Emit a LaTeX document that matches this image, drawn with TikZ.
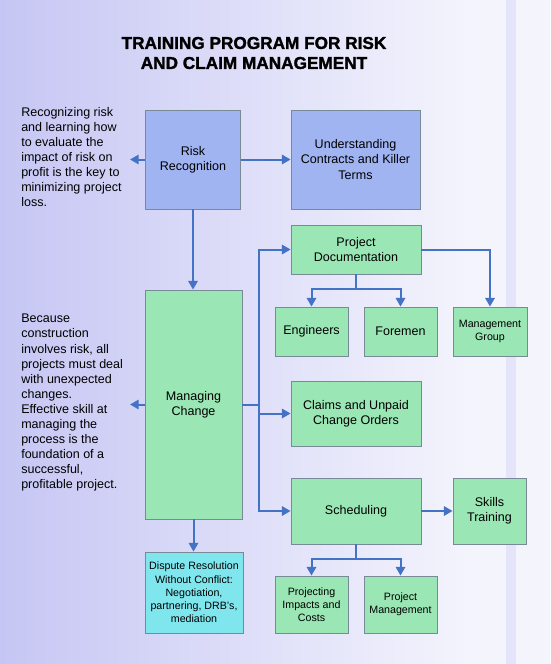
\documentclass[tikz,border=0pt]{standalone}
\usepackage{fontspec}
\setmainfont{Liberation Sans}
\newfontfamily\titlefont{Liberation Sans}[BoldFeatures={FakeBold=1.6}]
\usepackage{xcolor}
\usetikzlibrary{positioning,calc,arrows.meta}

\definecolor{bgleft}{RGB}{198,198,244}
\definecolor{bgright}{RGB}{244,244,253}
\definecolor{riskblue}{RGB}{160,180,242}
\definecolor{boxgreen}{RGB}{154,230,180}
\definecolor{boxcyan}{RGB}{128,230,238}
\definecolor{boxedge}{RGB}{120,138,150}
\definecolor{linkblue}{RGB}{68,114,196}

\begin{document}
\begin{tikzpicture}[x=0.75pt,y=-0.75pt,
    wh/.style 2 args={minimum width=#1*0.75pt, minimum height=#2*0.75pt},
    box/.style={draw=boxedge, line width=0.6pt, align=center, inner sep=1pt,
      font=\fontsize{9.4}{11.6}\selectfont},
    bluebox/.style={box, fill=riskblue},
    greenbox/.style={box, fill=boxgreen},
    smallbox/.style={box, font=\fontsize{8}{9.9}\selectfont},
    arr/.style={draw=linkblue, line width=1.5pt,
      -{Triangle[length=6.5pt,width=7pt]}},
    note/.style={anchor=north west, align=left, inner sep=0pt,
      font=\fontsize{9.4}{11.3}\selectfont}]

    % background
    \shade[left color=bgleft, right color=bgright] (0,0) rectangle (470,664);
    \fill[bgright] (470,0) rectangle (550,664);
    \fill[bgleft!35!bgright] (506,0) rectangle (516,664);
    \useasboundingbox (0,0) rectangle (550,664);

    % title
    \node[align=center, font=\titlefont\bfseries\fontsize{12.9}{15}\selectfont] (title) at (254,53)
      {TRAINING PROGRAM FOR RISK\\AND CLAIM MANAGEMENT};

    % boxes
    \node[bluebox, wh={95}{99}] (risk) at (193,159.5) {Risk\\Recognition};
    \node[bluebox, wh={129}{99}] (under) at (355.5,159.5)
      {Understanding\\Contracts and Killer\\Terms};
    \node[greenbox, wh={97}{229}] (mc) at (193.5,404.5) {Managing\\Change};
    \node[greenbox, wh={130}{49}] (pd) at (356,249.5) {Project\\Documentation};
    \node[greenbox, wh={73}{49}] (eng) at (311.5,331.5) {Engineers};
    \node[greenbox, wh={73}{49}] (fore) at (400.5,331.5) {Foremen};
    \node[greenbox, smallbox, wh={74}{49}] (mg) at (490,331.5) {Management\\Group};
    \node[greenbox, wh={130}{65}] (claims) at (356,413.5)
      {Claims and Unpaid\\Change Orders};
    \node[greenbox, wh={130}{66}] (sched) at (356,511) {Scheduling};
    \node[greenbox, wh={73}{66}] (skills) at (489.5,511) {Skills\\Training};
    \node[box, smallbox, fill=boxcyan, wh={98}{81}] (disp) at (194,592.5)
      {Dispute Resolution\\Without Conflict:\\Negotiation,\\partnering, DRB's,\\mediation};
    \node[greenbox, smallbox, wh={73}{57}] (impact) at (311.5,604.5)
      {Projecting\\Impacts and\\Costs};
    \node[greenbox, smallbox, wh={73}{57}] (pm) at (400.5,604.5)
      {Project\\Management};

    % side notes
    \node[note] (risknote) at (21,107) {Recognizing risk\\and learning how\\to evaluate the\\impact of risk on\\profit is the key to\\minimizing project\\loss.};
    \node[note] (mcnote) at (21,314) {Because\\construction\\involves risk, all\\projects must deal\\with unexpected\\changes.\\Effective skill at\\managing the\\process is the\\foundation of a\\successful,\\profitable project.};

    % connectors
    \coordinate (rt) at (130,159.5);
    \coordinate (mt) at (130,404.5);
    \coordinate (bus) at (258.5,404.5);
    \draw[arr] (risk) -- (under);
    \draw[arr] (risk.west) -- (rt);
    \draw[arr] (risk.south) -- (risk.south |- mc.north);
    \draw[arr] (mc.west) -- (mt);
    \draw[linkblue, line width=1.5pt] (mc.east) -- (bus);
    \draw[arr] (bus) |- (pd.west);
    \draw[arr] (bus) |- (claims.west);
    \draw[arr] (bus) |- (sched.west);
    \draw[arr] (pd.south) -- ++(0,15) -| (eng.north);
    \draw[arr] (pd.south) -- ++(0,15) -| (fore.north);
    \draw[arr] (pd.east) -| (mg.north);
    \draw[arr] (mc.south) -- (mc.south |- disp.north);
    \draw[arr] (sched) -- (skills);
    \draw[arr] (sched.south) -- ++(0,15) -| (impact.north);
    \draw[arr] (sched.south) -- ++(0,15) -| (pm.north);
\end{tikzpicture}
\end{document}
